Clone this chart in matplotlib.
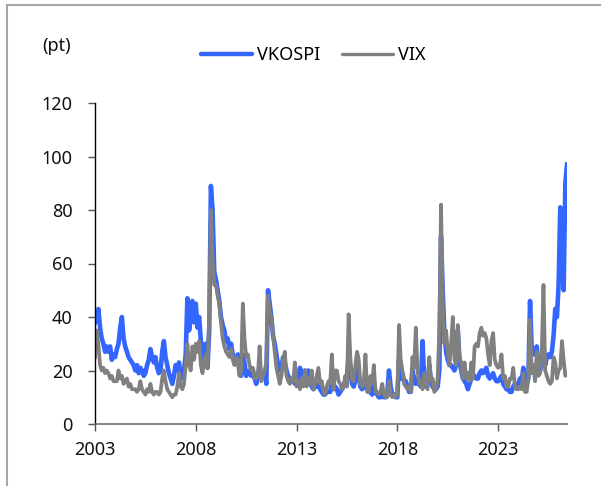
import numpy as np
import matplotlib
matplotlib.use("Agg")
import matplotlib.pyplot as plt
from matplotlib.patches import Rectangle

# Monthly readings, Jan 2003 .. Jun 2026
vkospi = [
    38, 40, 43, 36, 32, 30, 27, 29, 27, 29, 24, 26,   # 2003
    25, 28, 30, 36, 40, 32, 29, 27, 25, 24, 23, 22,   # 2004
    20, 22, 19, 21, 20, 18, 19, 22, 24, 28, 25, 23,   # 2005
    25, 21, 19, 20, 27, 31, 25, 22, 19, 17, 15, 18,   # 2006
    22, 20, 23, 18, 17, 20, 26, 47, 35, 40, 46, 38,   # 2007
    45, 36, 40, 31, 29, 24, 30, 21, 35, 89, 80, 57,   # 2008
    54, 50, 46, 40, 37, 35, 31, 32, 28, 30, 26, 23,   # 2009
    24, 26, 19, 18, 26, 23, 18, 19, 20, 18, 20, 17,   # 2010
    15, 18, 22, 17, 18, 19, 15, 50, 45, 40, 33, 30,   # 2011
    26, 22, 20, 21, 25, 23, 20, 18, 17, 16, 17, 15,   # 2012
    15, 17, 21, 19, 18, 20, 16, 20, 17, 14, 13, 14,   # 2013
    14, 15, 13, 12, 11, 11, 12, 12, 12, 16, 13, 14,   # 2014
    13, 11, 12, 13, 14, 16, 18, 25, 20, 15, 14, 16,   # 2015
    21, 19, 14, 13, 14, 18, 13, 12, 12, 11, 15, 12,   # 2016
    11, 10, 10, 11, 10, 10, 11, 20, 14, 11, 11, 10,   # 2017
    10, 24, 17, 19, 16, 16, 14, 12, 12, 20, 17, 15,   # 2018
    17, 15, 14, 31, 16, 14, 15, 22, 16, 14, 13, 13,   # 2019
    14, 20, 70, 50, 34, 27, 24, 22, 22, 21, 20, 22,   # 2020
    35, 24, 20, 17, 16, 15, 13, 15, 17, 18, 18, 17,   # 2021
    17, 19, 20, 19, 20, 21, 18, 17, 18, 19, 17, 16,   # 2022
    16, 17, 18, 15, 14, 13, 13, 12, 12, 14, 15, 14,   # 2023
    15, 17, 16, 21, 16, 15, 17, 46, 28, 26, 27, 29,   # 2024
    22, 20, 23, 30, 22, 25, 26, 25, 27, 33, 43, 40,   # 2025
    52, 81, 76, 50, 90, 97,                           # 2026
]
vix = [
    25, 35, 30, 22, 20, 21, 19, 20, 19, 17, 18, 16,   # 2003
    16, 16, 20, 17, 18, 15, 16, 17, 14, 15, 13, 13,   # 2004
    13, 12, 13, 16, 13, 12, 11, 13, 12, 15, 12, 11,   # 2005
    12, 12, 11, 12, 17, 20, 16, 13, 12, 11, 10, 11,   # 2006
    11, 14, 19, 14, 13, 15, 22, 30, 22, 20, 29, 24,   # 2007
    30, 27, 31, 22, 19, 24, 26, 21, 40, 80, 62, 52,   # 2008
    52, 48, 45, 38, 32, 29, 27, 26, 25, 28, 24, 22,   # 2009
    25, 24, 18, 20, 45, 32, 25, 26, 22, 20, 21, 17,   # 2010
    17, 18, 29, 16, 18, 20, 23, 48, 42, 40, 33, 27,   # 2011
    21, 18, 15, 18, 24, 27, 18, 16, 15, 17, 16, 23,   # 2012
    14, 16, 13, 17, 14, 20, 14, 17, 15, 20, 13, 15,   # 2013
    18, 21, 15, 16, 12, 11, 14, 16, 15, 26, 13, 20,   # 2014
    20, 16, 15, 13, 14, 18, 14, 41, 25, 17, 16, 22,   # 2015
    27, 24, 15, 14, 15, 26, 12, 12, 18, 15, 22, 12,   # 2016
    12, 11, 12, 15, 11, 10, 10, 16, 11, 10, 11, 10,   # 2017
    11, 37, 24, 20, 15, 14, 13, 14, 12, 25, 21, 36,   # 2018
    20, 15, 16, 13, 19, 16, 13, 25, 16, 17, 12, 13,   # 2019
    17, 35, 82, 45, 30, 35, 27, 22, 30, 40, 24, 22,   # 2020
    37, 25, 23, 17, 23, 17, 19, 16, 23, 17, 29, 30,   # 2021
    29, 34, 36, 33, 34, 32, 26, 22, 31, 34, 24, 22,   # 2022
    21, 22, 26, 17, 18, 14, 14, 17, 17, 21, 14, 13,   # 2023
    13, 14, 13, 19, 12, 12, 17, 39, 19, 22, 16, 27,   # 2024
    18, 19, 27, 52, 20, 18, 16, 15, 16, 25, 23, 17,   # 2025
    20, 21, 31, 24, 18, 19,                           # 2026
]
x_ticks = [2003, 2008, 2013, 2018, 2023]
y_ticks = [0, 20, 40, 60, 80, 100, 120]
series_names = ["VKOSPI", "VIX"]

plt.rcParams['font.family'] = ['Noto Sans', 'DejaVu Sans']
FS = 13

fig = plt.figure(figsize=(6.01, 4.86), dpi=100)
ax = fig.add_axes([95/601, 62/486, (567-95)/601, (424-103)/486])

t = 2003 + np.arange(len(vkospi)) / 12.0

ax.plot(t, vkospi, color='#3366FF', lw=3.3, solid_joinstyle='round', label=series_names[0])
ax.plot(t, vix, color='#808080', lw=2.7, solid_joinstyle='round', label=series_names[1])

ax.set_xlim(t[0], t[-1])
ax.set_ylim(0, 120)
ax.set_xticks(x_ticks)
ax.set_xticklabels([str(v) for v in x_ticks], fontsize=FS)
ax.set_yticks(y_ticks)
ax.set_yticklabels([str(v) for v in y_ticks], fontsize=FS)

for s in ['top', 'right']:
    ax.spines[s].set_visible(False)
ax.spines['left'].set_color('#000000')
ax.spines['left'].set_linewidth(1.0)
ax.spines['bottom'].set_color('#707070')
ax.spines['bottom'].set_linewidth(1.2)
ax.tick_params(axis='y', direction='out', length=5, width=1, color='#555555', pad=11, labelcolor='#111111')
ax.tick_params(axis='x', direction='out', length=5, width=1, color='#555555', pad=7, labelcolor='#111111')

leg = fig.legend(loc='center', bbox_to_anchor=(0.522, 1 - 55/486), ncol=2, frameon=False,
                 fontsize=FS, handlelength=2.8, handletextpad=0.3, columnspacing=1.2)
for h in leg.get_lines():
    h.set_solid_capstyle('round')
leg.get_lines()[0].set_linewidth(3.2)
leg.get_lines()[1].set_linewidth(2.4)

fig.text(42/601, 1 - 46/486, "(pt)", fontsize=FS, ha='left', va='center', color='#111111')

# outer frame
fig.patches.append(Rectangle((7/601, -0.05), 1.0, 1 - 5/486 + 0.05, transform=fig.transFigure,
                             fill=False, edgecolor='#a6a6a6', lw=1.5, zorder=0))

fig.savefig("out.png", dpi=100)
